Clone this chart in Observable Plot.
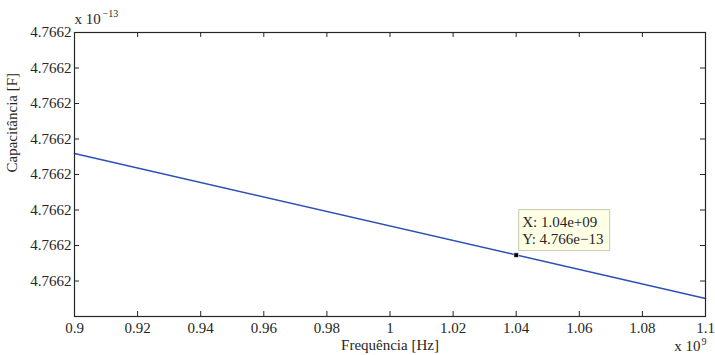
<!DOCTYPE html>
<html><head><meta charset="utf-8">
<script src="https://cdn.jsdelivr.net/npm/d3@7"></script>
<script src="https://cdn.jsdelivr.net/npm/@observablehq/plot@0.6"></script>
<style>body{margin:0;background:#fff} svg, svg text{font-family:"Liberation Serif","Times New Roman",serif !important}</style>
</head><body><div id="chart"></div>
<script>
// Frequency in units of 1e9 Hz, capacitance in units of 1e-13 F
const freq = [0.9, 1.1];
const capacitance = [4.76626295, 4.76624255];
const tipFreq = [1.04];
const tipCap = [4.76624865];
const tipLabel = ["X: 1.04e+09\nY: 4.766e\u221213"];
const xTicks = [0.9, 0.92, 0.94, 0.96, 0.98, 1, 1.02, 1.04, 1.06, 1.08, 1.1];
const xTickLabels = ["0.9", "0.92", "0.94", "0.96", "0.98", "1", "1.02", "1.04", "1.06", "1.08", "1.1"];
const yTicks = [4.766245, 4.76625, 4.766255, 4.76626, 4.766265, 4.76627, 4.766275, 4.76628];
const yTickLabels = ["4.7662", "4.7662", "4.7662", "4.7662", "4.7662", "4.7662", "4.7662", "4.7662"];
const xLabel = "Frequência [Hz]";
const yLabel = "Capacitância [F]";

const W = 715, H = 355, ML = 74, MR = 10, MT = 32, MB = 39;
const PW = W - ML - MR, PH = H - MT - MB, TL = 5;
const line = freq.map((f, i) => ({f, c: capacitance[i]}));
const tip = tipFreq.map((f, i) => ({f, c: tipCap[i], t: tipLabel[i]}));
const ink = "#262626";
const font = "'Liberation Serif', 'Times New Roman', serif";

const chart = Plot.plot({
  width: W, height: H,
  marginLeft: ML, marginRight: MR, marginTop: MT, marginBottom: MB,
  style: {fontFamily: font, fontSize: "15px", color: ink, background: "#fff"},
  x: {domain: [0.9, 1.1]},
  y: {domain: [4.76624, 4.76628]},
  marks: [
    Plot.axisX(xTicks, {tickSize: 0, tickPadding: 6, tickFormat: (d, i) => xTickLabels[i], label: null, fontSize: 15}),
    Plot.axisY(yTicks, {tickSize: 0, tickPadding: 3, tickFormat: (d, i) => yTickLabels[i], label: null, fontSize: 15}),
    Plot.ruleX(xTicks, {x: d => d, insetTop: PH - TL, stroke: ink}),
    Plot.ruleX(xTicks, {x: d => d, insetBottom: PH - TL, stroke: ink}),
    Plot.ruleY(yTicks, {y: d => d, insetRight: PW - TL, stroke: ink}),
    Plot.ruleY(yTicks, {y: d => d, insetLeft: PW - TL, stroke: ink}),
    Plot.line(line, {x: "f", y: "c", stroke: "#2c50b4", strokeWidth: 1.5}),
    Plot.rect(tip, {x1: "f", x2: "f", y1: "c", y2: "c", insetLeft: -45.5, insetRight: -45.5, insetTop: -20.5, insetBottom: -20.5, dx: 48.5, dy: -24.5, fill: "#ffffe6", stroke: "#c8c8b4"}),
    Plot.text(tip, {x: "f", y: "c", text: "t", textAnchor: "start", lineAnchor: "middle", dx: 6, dy: -25, fontSize: 15, lineHeight: 1.15, fill: ink}),
    Plot.dot(tip, {x: "f", y: "c", symbol: "square", r: 2.6, fill: "#000", stroke: "#fff", strokeWidth: 0.6}),
    Plot.frame({stroke: ink, strokeWidth: 1.2}),
    Plot.text([xLabel], {frameAnchor: "bottom", lineAnchor: "bottom", dy: 33, fontSize: 15, fill: ink}),
    Plot.text([yLabel], {frameAnchor: "left", rotate: -90, dx: -62, dy: -2, fontSize: 15, fill: ink}),
    Plot.text(["x 10"], {frameAnchor: "top-left", textAnchor: "start", lineAnchor: "bottom", dy: -9, fontSize: 15, fill: ink}),
    Plot.text(["\u221213"], {frameAnchor: "top-left", textAnchor: "start", lineAnchor: "bottom", dx: 28, dy: -16, fontSize: 10, fill: ink}),
    Plot.text(["x 10"], {frameAnchor: "bottom-right", textAnchor: "end", lineAnchor: "bottom", dx: -5, dy: 34, fontSize: 15, fill: ink}),
    Plot.text(["9"], {frameAnchor: "bottom-right", textAnchor: "start", lineAnchor: "bottom", dx: -4, dy: 28, fontSize: 10, fill: ink})
  ]
});
document.getElementById("chart").appendChild(chart);
</script>
</body></html>
